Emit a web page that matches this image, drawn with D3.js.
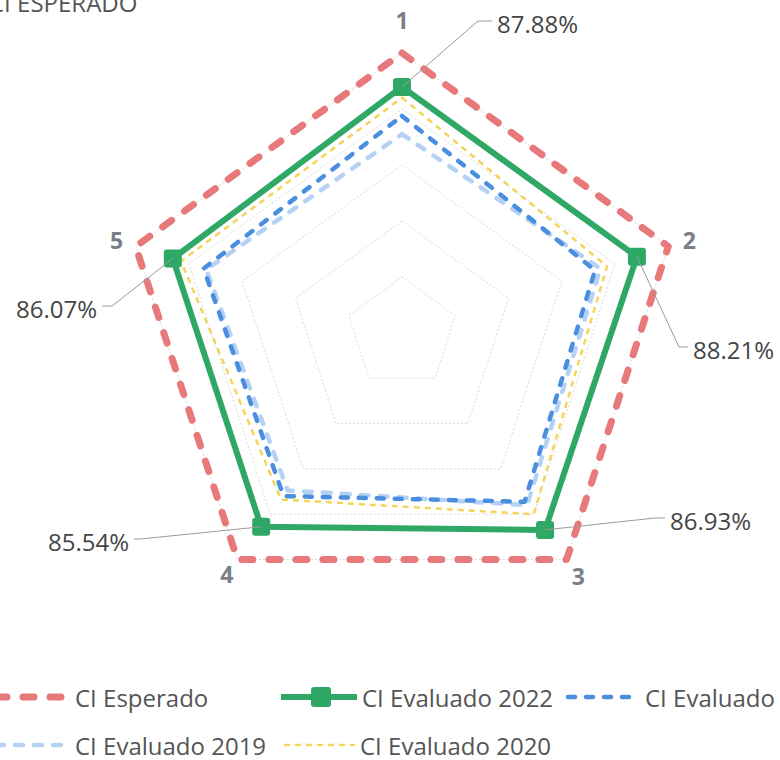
<!DOCTYPE html>
<html lang="es">
<head>
  <meta charset="UTF-8">
  <title>CI Esperado vs Evaluado</title>
  <script src="https://d3js.org/d3.v7.min.js"></script>
  <style>
    body { margin: 0; background: #fff; }
    svg { display: block; font-family: "Open Sans", sans-serif; }
  </style>
</head>
<body>
  <svg width="780" height="760"></svg>

  <script>
    // axis names and values (0-1 = 0%-100%)
    const axes = ['1', '2', '3', '4', '5'];
    const esperado = [1, 1, 1, 1, 1];
    const eval2022 = [0.8788, 0.8821, 0.8693, 0.8554, 0.8607];
    const eval2021 = [0.775, 0.725, 0.745, 0.72, 0.745];
    const eval2019 = [0.71, 0.745, 0.76, 0.695, 0.735];
    const eval2020 = [0.84, 0.77, 0.80, 0.735, 0.83];
    const gridTicks = [0.2, 0.4, 0.6, 0.8, 1.0];

    const series = [
      { name: 'CI Evaluado 2019', values: eval2019, color: '#b5d2f4', width: 4.5, dash: '8 11', cap: 'round' },
      { name: 'CI Evaluado 2021', values: eval2021, color: '#4a8ee0', width: 4.5, dash: '7 11', cap: 'round' },
      { name: 'CI Evaluado 2020', values: eval2020, color: '#f5d45a', width: 2.5, dash: '6 5', cap: 'butt' },
      { name: 'CI Esperado', values: esperado, color: '#e8797b', width: 7, dash: '11 16', cap: 'round' },
      { name: 'CI Evaluado 2022', values: eval2022, color: '#2fa866', width: 6, dash: null, cap: 'butt', marker: true }
    ];

    const svg = d3.select('svg');
    const cx = 402, cy = 333;
    const r = d3.scaleLinear().domain([0, 1]).range([0, 280]);
    const angle = d3.scalePoint().domain(axes).range([0, 360]).padding(0);
    const step = 360 / axes.length;
    const ang = i => (-90 + step * i) * Math.PI / 180;
    const pt = (i, v) => [cx + r(v) * Math.cos(ang(i)), cy + r(v) * Math.sin(ang(i))];

    // title (cut off at the left edge in the original)
    svg.append('text')
      .attr('x', -11).attr('y', 12)
      .attr('font-size', 24).attr('fill', '#555')
      .text('CI ESPERADO');

    // grid rings
    svg.append('g').selectAll('polygon')
      .data(gridTicks)
      .join('polygon')
      .attr('points', t => axes.map((a, i) => pt(i, t).join(',')).join(' '))
      .attr('fill', 'none')
      .attr('stroke', '#d6d9d6')
      .attr('stroke-width', 1)
      .attr('stroke-dasharray', '2 2');

    // series
    const line = d3.line().curve(d3.curveLinearClosed);
    series.forEach(s => {
      svg.append('path')
        .attr('d', line(s.values.map((v, i) => pt(i, v))))
        .attr('fill', 'none')
        .attr('stroke', s.color)
        .attr('stroke-width', s.width)
        .attr('stroke-linejoin', 'round')
        .attr('stroke-linecap', s.cap)
        .attr('stroke-dasharray', s.dash);
      if (s.marker) {
        svg.append('g').selectAll('rect')
          .data(s.values)
          .join('rect')
          .attr('x', (v, i) => pt(i, v)[0] - 9)
          .attr('y', (v, i) => pt(i, v)[1] - 9)
          .attr('width', 18).attr('height', 18)
          .attr('rx', 3)
          .attr('fill', s.color);
      }
    });

    // axis labels
    const labelR = [313, 302, 300, 298, 300];
    svg.append('g').selectAll('text')
      .data(axes)
      .join('text')
      .attr('x', (a, i) => cx + labelR[i] * Math.cos(ang(i)))
      .attr('y', (a, i) => cy + labelR[i] * Math.sin(ang(i)))
      .attr('text-anchor', 'middle')
      .attr('dominant-baseline', 'central')
      .attr('font-size', 23)
      .attr('font-weight', 'bold')
      .attr('fill', '#7b7e88')
      .text(d => d);

    // data labels for 2022 with leader lines
    const callouts = [
      { elbow: [478, 21], end: [492, 21], anchor: 'start' },
      { elbow: [679, 347], end: [688, 347], anchor: 'start' },
      { elbow: [655, 518], end: [665, 518], anchor: 'start' },
      { elbow: [140, 539], end: [134, 539], anchor: 'end' },
      { elbow: [112, 306], end: [102, 306], anchor: 'end' }
    ];
    const fmt = d3.format('.2%');
    const lab = svg.append('g');
    eval2022.forEach((v, i) => {
      const c = callouts[i];
      lab.append('polyline')
        .attr('points', [pt(i, v), c.elbow, c.end].map(p => p.join(',')).join(' '))
        .attr('fill', 'none')
        .attr('stroke', '#9a9a9a')
        .attr('stroke-width', 1);
      lab.append('text')
        .attr('x', c.end[0] + (c.anchor === 'start' ? 5 : -5))
        .attr('y', c.end[1] + 2)
        .attr('text-anchor', c.anchor)
        .attr('dominant-baseline', 'central')
        .attr('font-size', 24)
        .attr('fill', '#454545')
        .text(fmt(v));
    });

    // legend
    const legend = [
      { s: 'CI Esperado', x: 0, y: 697, w: 70 },
      { s: 'CI Evaluado 2022', x: 285, y: 697, w: 72 },
      { s: 'CI Evaluado 2021', x: 572, y: 697, w: 68 },
      { s: 'CI Evaluado 2019', x: 0, y: 745, w: 62, tx: 75 },
      { s: 'CI Evaluado 2020', x: 288, y: 745, w: 67 }
    ];
    const lg = svg.append('g');
    legend.forEach(l => {
      const s = series.find(d => d.name === l.s);
      lg.append('line')
        .attr('x1', l.x - 4).attr('x2', l.x + l.w)
        .attr('y1', l.y).attr('y2', l.y)
        .attr('stroke', s.color)
        .attr('stroke-width', s.width)
        .attr('stroke-linecap', s.cap)
        .attr('stroke-dasharray', s.dash);
      if (s.marker) {
        lg.append('rect')
          .attr('x', l.x + l.w / 2 - 10).attr('y', l.y - 10)
          .attr('width', 20).attr('height', 20).attr('rx', 3)
          .attr('fill', s.color);
      }
      lg.append('text')
        .attr('x', l.tx || (l.x + l.w + 5))
        .attr('y', l.y)
        .attr('dominant-baseline', 'central')
        .attr('font-size', 24)
        .attr('fill', '#555')
        .text(l.s);
    });
  </script>
</body>
</html>
